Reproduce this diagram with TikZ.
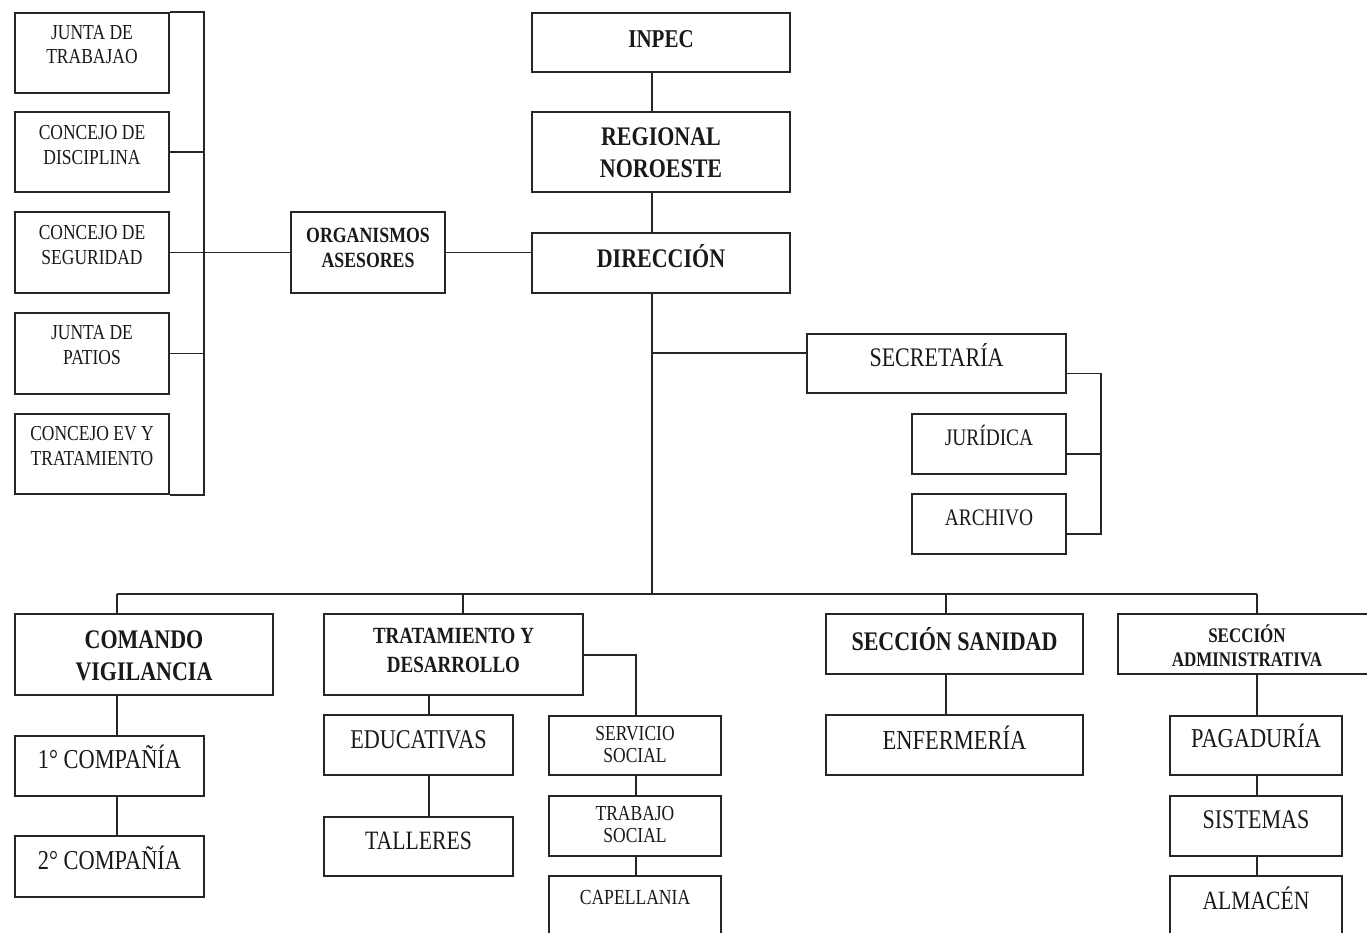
\documentclass[tikz,border=0pt]{standalone}
\usepackage{fontspec}
\setmainfont{Liberation Serif}
\usepackage{graphicx}
\tikzset{
  box/.style={draw=black!85, line width=1.9pt, inner sep=0pt, fill=none},
  txt/.style={inner sep=0pt, text=black!90},
  conn/.style={draw=black!85, line width=1.9pt}
}
\newcommand{\mkbox}[5]{\node[box, minimum width={(#4-#2)*1pt}, minimum height={(#5-#3)*1pt}] (#1) at ({(#2+#4)/2},{(#3+#5)/2}) {};}
\newcommand{\mktxt}[7]{\node[txt] (#1) at (#2,#3) {\scalebox{1}[1.22]{#4\fontsize{#5}{#6}\selectfont\begin{tabular}{@{}c@{}}#7\end{tabular}}};}
\begin{document}
\begin{tikzpicture}[x=1pt,y=-1pt]
\useasboundingbox (0,0) rectangle (1367,933);
\fill[white] (0,0) rectangle (1367,933);
\clip (0,0) rectangle (1367,933);
% boxes
\mkbox{jt}{15}{13}{169}{93}
\mkbox{cd}{15}{112}{169}{192}
\mkbox{cs}{15}{212}{169}{293}
\mkbox{jp}{15}{313}{169}{394}
\mkbox{ev}{15}{414}{169}{494}
\mkbox{org}{291}{212}{445}{293}
\mkbox{inpec}{532}{13}{790}{72}
\mkbox{reg}{532}{112}{790}{192}
\mkbox{dir}{532}{233}{790}{293}
\mkbox{sec}{807}{334}{1066}{393}
\mkbox{jur}{912}{414}{1066}{474}
\mkbox{arc}{912}{494}{1066}{554}
\mkbox{cv}{15}{614}{273}{695}
\mkbox{c1}{15}{736}{204}{796}
\mkbox{c2}{15}{836}{204}{897}
\mkbox{td}{324}{614}{583}{695}
\mkbox{edu}{324}{715}{513}{775}
\mkbox{tal}{324}{817}{513}{876}
\mkbox{ss}{549}{716}{721}{775}
\mkbox{ts}{549}{796}{721}{856}
\mkbox{cap}{549}{876}{721}{938}
\mkbox{san}{826}{614}{1083}{674}
\mkbox{enf}{826}{715}{1083}{775}
\mkbox{adm}{1118}{614}{1377}{674}
\mkbox{pag}{1170}{716}{1342}{775}
\mkbox{sis}{1170}{796}{1342}{856}
\mkbox{alm}{1170}{876}{1342}{938}
% texts
\mktxt{jtt}{92}{46.5}{}{17.5}{20}{JUNTA DE\\TRABAJAO}
\mktxt{cdt}{92}{147}{}{17.5}{20}{CONCEJO DE\\DISCIPLINA}
\mktxt{cst}{92}{247}{}{17.5}{20}{CONCEJO DE\\SEGURIDAD}
\mktxt{jpt}{92}{347}{}{17.5}{20}{JUNTA DE\\PATIOS}
\mktxt{evt}{92}{448}{}{17.5}{20}{CONCEJO EV Y\\TRATAMIENTO}
\mktxt{orgt}{368}{250}{\bfseries}{17.8}{21}{ORGANISMOS\\ASESORES}
\mktxt{inpect}{661}{40.5}{\bfseries}{21}{27}{INPEC}
\mktxt{regt}{661}{155.5}{\bfseries}{22}{26}{REGIONAL\\NOROESTE}
\mktxt{dirt}{661}{260.5}{\bfseries}{22}{28}{DIRECCIÓN}
\mktxt{sect}{936.5}{360}{}{22}{28}{SECRETARÍA}
\mktxt{jurt}{989}{439.5}{}{19.4}{25}{JURÍDICA}
\mktxt{arct}{989}{519}{}{19.4}{25}{ARCHIVO}
\mktxt{cvt}{144}{658}{\bfseries}{22}{26.5}{COMANDO\\VIGILANCIA}
\mktxt{c1t}{109.5}{762}{}{22.4}{28}{1° COMPAÑÍA}
\mktxt{c2t}{109.5}{862.5}{}{22.4}{28}{2° COMPAÑÍA}
\mktxt{tdt}{453.5}{652}{\bfseries}{19}{24}{TRATAMIENTO Y\\DESARROLLO}
\mktxt{edut}{418.5}{742}{}{22.2}{28}{EDUCATIVAS}
\mktxt{talt}{418.5}{842.5}{}{21.7}{28}{TALLERES}
\mktxt{sst}{635}{747}{}{17.5}{18.5}{SERVICIO\\SOCIAL}
\mktxt{tst}{635}{827}{}{17.5}{18.5}{TRABAJO\\SOCIAL}
\mktxt{capt}{635}{899.5}{}{17.6}{22}{CAPELLANIA}
\mktxt{sant}{954.5}{643.5}{\bfseries}{22}{28}{SECCIÓN SANIDAD}
\mktxt{enft}{954.5}{742.5}{}{22.5}{28}{ENFERMERÍA}
\mktxt{admt}{1247}{649}{\bfseries}{17}{19}{SECCIÓN\\ADMINISTRATIVA}
\mktxt{pagt}{1256}{741}{}{22.4}{28}{PAGADURÍA}
\mktxt{sist}{1256}{822}{}{22.1}{28}{SISTEMAS}
\mktxt{almt}{1256}{902.5}{}{21.6}{28}{ALMACÉN}
% connectors: advisory bodies
\coordinate (lb) at (204,253);
\draw[conn] (jt.north east) -- (jt.north east -| lb) -- (ev.south east -| lb) -- (ev.south east);
\draw[conn] (cd.east) -- (cd.east -| lb);
\draw[conn] (jp.east) -- (jp.east -| lb);
\draw[conn] (cs.east) -- (org.west);
\draw[conn] (org.east) -- (org.east -| dir.west);
% main spine
\coordinate (mx) at (652,594);
\draw[conn] (inpec.south -| mx) -- (reg.north -| mx);
\draw[conn] (reg.south -| mx) -- (dir.north -| mx);
\draw[conn] (dir.south -| mx) -- (mx);
\coordinate (sj) at (652,353);
\draw[conn] (sj) -- (sj -| sec.west);
\coordinate (rb) at (1101,0);
\draw[conn] ([yshift=-10pt]sec.east) -- ([yshift=-10pt]sec.east -| rb) -- ([yshift=-10pt]arc.east -| rb) -- ([yshift=-10pt]arc.east);
\draw[conn] ([yshift=-10pt]jur.east) -- ([yshift=-10pt]jur.east -| rb);
% bottom bus
\coordinate (ba) at (117,594);
\coordinate (bb) at (463,594);
\coordinate (bc) at (946,594);
\coordinate (bd) at (1257,594);
\draw[conn] (ba) -- (bd);
\draw[conn] (ba) -- (ba |- cv.north);
\draw[conn] (ba |- cv.south) -- (ba |- c1.north);
\draw[conn] (ba |- c1.south) -- (ba |- c2.north);
\draw[conn] (bb) -- (bb |- td.north);
\coordinate (ex) at (429,0);
\draw[conn] (ex |- td.south) -- (ex |- edu.north);
\draw[conn] (ex |- edu.south) -- (ex |- tal.north);
\coordinate (sx) at (636,655);
\draw[conn] (sx -| td.east) -- (sx) -- (sx |- ss.north);
\draw[conn] (sx |- ss.south) -- (sx |- ts.north);
\draw[conn] (sx |- ts.south) -- (sx |- cap.north);
\draw[conn] (bc) -- (bc |- san.north);
\draw[conn] (bc |- san.south) -- (bc |- enf.north);
\draw[conn] (bd) -- (bd |- adm.north);
\draw[conn] (bd |- adm.south) -- (bd |- pag.north);
\draw[conn] (bd |- pag.south) -- (bd |- sis.north);
\draw[conn] (bd |- sis.south) -- (bd |- alm.north);
\end{tikzpicture}
\end{document}
